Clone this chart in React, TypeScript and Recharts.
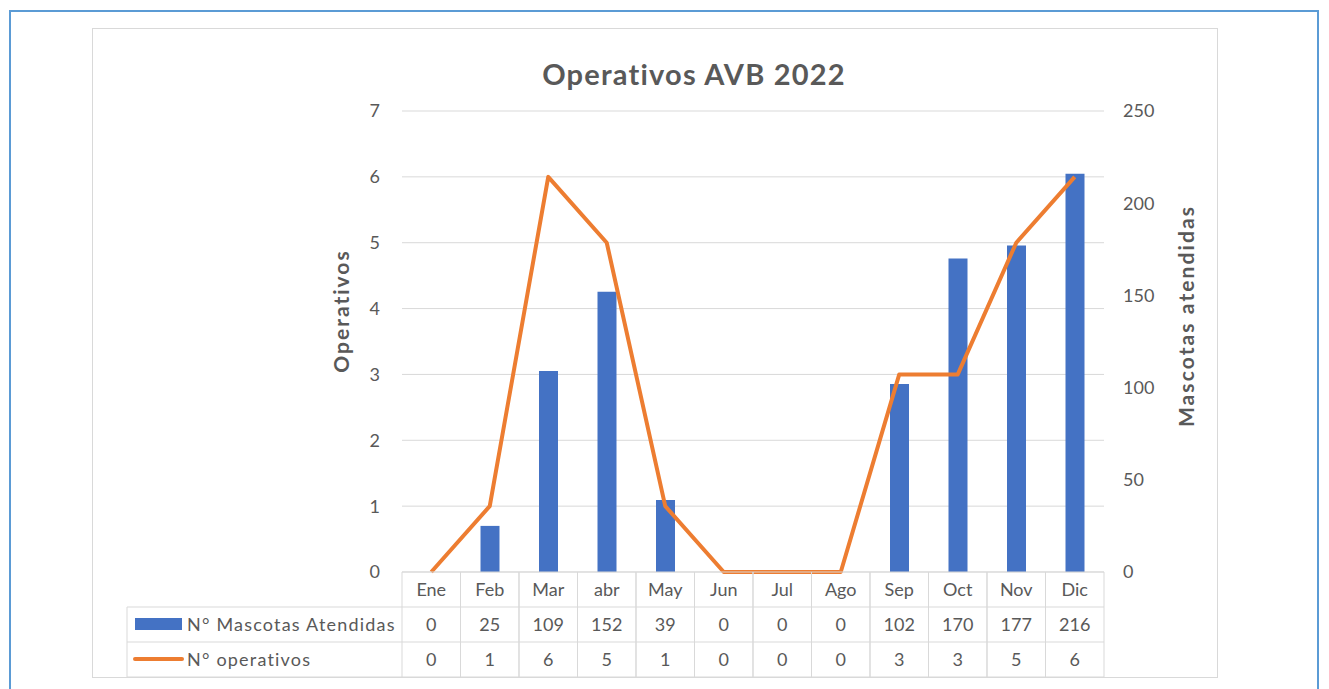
import { ComposedChart, Bar, Line, XAxis, YAxis, CartesianGrid } from 'recharts';

// data
const months = ['Ene', 'Feb', 'Mar', 'abr', 'May', 'Jun', 'Jul', 'Ago', 'Sep', 'Oct', 'Nov', 'Dic'];
const mascotas = [0, 25, 109, 152, 39, 0, 0, 0, 102, 170, 177, 216];
const operativos = [0, 1, 6, 5, 1, 0, 0, 0, 3, 3, 5, 6];
const leftTicks = [0, 1, 2, 3, 4, 5, 6, 7];
const rightTicks = [0, 50, 100, 150, 200, 250];

const SERIES_BAR = 'N° Mascotas Atendidas';
const SERIES_LINE = 'N° operativos';

const data = months.map((m, i) => ({ month: m, mascotas: mascotas[i], operativos: operativos[i] }));

const BLUE = '#4472C4';
const ORANGE = '#ED7D31';
const GRID = '#D9D9D9';
const TEXT = '#595959';
const FONT = 'Lato, "Open Sans", sans-serif';

const CHART_W = 1126;
const CHART_H = 650;
const MARGIN = { top: 83, right: 54, bottom: 1, left: 250 };
const AXIS_W = 60;
const PLOT_W = CHART_W - MARGIN.left - MARGIN.right - AXIS_W * 2;
const ROW_H = 35;
const LEGEND_W = 275;

const TableTick = (props: any) => {
  const { x, y, payload } = props;
  const i = months.indexOf(payload.value);
  const bw = PLOT_W / months.length;
  const l = x - bw / 2;
  const r = x + bw / 2;
  return (
    <g>
      <line x1={l} y1={y} x2={l} y2={y + ROW_H * 3} stroke={GRID} />
      <line x1={r} y1={y} x2={r} y2={y + ROW_H * 3} stroke={GRID} />
      <line x1={l} y1={y + ROW_H} x2={r} y2={y + ROW_H} stroke={GRID} />
      <line x1={l} y1={y + ROW_H * 2} x2={r} y2={y + ROW_H * 2} stroke={GRID} />
      <line x1={l} y1={y + ROW_H * 3} x2={r} y2={y + ROW_H * 3} stroke={GRID} />
      <text x={x} y={y + 24} textAnchor="middle" fontSize={18} fill={TEXT}>{payload.value}</text>
      <text x={x} y={y + 59} textAnchor="middle" fontSize={18} fill={TEXT}>{mascotas[i]}</text>
      <text x={x} y={y + 94} textAnchor="middle" fontSize={18} fill={TEXT}>{operativos[i]}</text>
      {i === 0 && (
        <g>
          <line x1={l - LEGEND_W} y1={y + ROW_H} x2={l} y2={y + ROW_H} stroke={GRID} />
          <line x1={l - LEGEND_W} y1={y + ROW_H * 2} x2={l} y2={y + ROW_H * 2} stroke={GRID} />
          <line x1={l - LEGEND_W} y1={y + ROW_H * 3} x2={l} y2={y + ROW_H * 3} stroke={GRID} />
          <line x1={l - LEGEND_W} y1={y + ROW_H} x2={l - LEGEND_W} y2={y + ROW_H * 3} stroke={GRID} />
          <rect x={l - LEGEND_W + 8} y={y + ROW_H + 11} width={47} height={12} fill={BLUE} />
          <text x={l - LEGEND_W + 60} y={y + 59} fontSize={18} letterSpacing={1.2} fill={TEXT}>{SERIES_BAR}</text>
          <line x1={l - LEGEND_W + 8} y1={y + ROW_H * 2 + 17} x2={l - LEGEND_W + 55} y2={y + ROW_H * 2 + 17}
            stroke={ORANGE} strokeWidth={4} strokeLinecap="round" />
          <text x={l - LEGEND_W + 60} y={y + 94} fontSize={18} letterSpacing={1.2} fill={TEXT}>{SERIES_LINE}</text>
        </g>
      )}
    </g>
  );
};

export default function App() {
  return (
    <div style={{ position: 'relative', width: 1313, height: 681, overflow: 'hidden', fontFamily: FONT }}>
      {/* outer frame */}
      <div style={{ position: 'absolute', left: 1, top: 2, width: 1310, height: 720, border: '2px solid #5B9BD5', boxSizing: 'border-box' }} />
      {/* chart area */}
      <div style={{ position: 'absolute', left: 84, top: 20, width: CHART_W, height: CHART_H, border: `1px solid ${GRID}`, boxSizing: 'border-box', background: '#fff' }} />
      <div style={{ position: 'absolute', left: 84, top: 20 }}>
        <ComposedChart width={CHART_W} height={CHART_H} data={data} margin={MARGIN}>
          <CartesianGrid yAxisId="left" vertical={false} stroke={GRID} />
          <XAxis
            dataKey="month"
            interval={0}
            height={105}
            tickLine={false}
            tickSize={0}
            tickMargin={0}
            axisLine={{ stroke: GRID }}
            tick={(p: any) => <TableTick {...p} />}
          />
          <YAxis
            yAxisId="left"
            domain={[0, 7]}
            ticks={leftTicks}
            width={AXIS_W}
            axisLine={false}
            tickLine={false}
            tickSize={0}
            tickMargin={22}
            tick={{ fontSize: 18, fill: TEXT }}
          />
          <YAxis
            yAxisId="right"
            orientation="right"
            domain={[0, 250]}
            ticks={rightTicks}
            width={AXIS_W}
            axisLine={false}
            tickLine={false}
            tickSize={0}
            tickMargin={19}
            tick={{ fontSize: 18, fill: TEXT, textAnchor: 'start' }}
          />
          <Bar yAxisId="right" dataKey="mascotas" name={SERIES_BAR} fill={BLUE} barSize={19} isAnimationActive={false} />
          <Line yAxisId="left" type="linear" dataKey="operativos" name={SERIES_LINE} stroke={ORANGE} strokeWidth={4}
            dot={false} strokeLinejoin="round" isAnimationActive={false} />
        </ComposedChart>
      </div>
      <svg width={1313} height={681} style={{ position: 'absolute', left: 0, top: 0, pointerEvents: 'none' }}>
        <text x={686} y={77} textAnchor="middle" fontSize={29} letterSpacing={1.2} fontWeight="bold" fill={TEXT}>Operativos AVB 2022</text>
        <text x={0} y={0} transform="translate(332 303) rotate(-90)" textAnchor="middle" dominantBaseline="central"
          fontSize={21} letterSpacing={2} fontWeight="bold" fill={TEXT}>Operativos</text>
        <text x={0} y={0} transform="translate(1177 308) rotate(-90)" textAnchor="middle" dominantBaseline="central"
          fontSize={21} letterSpacing={2.1} fontWeight="bold" fill={TEXT}>Mascotas atendidas</text>
      </svg>
    </div>
  );
}
